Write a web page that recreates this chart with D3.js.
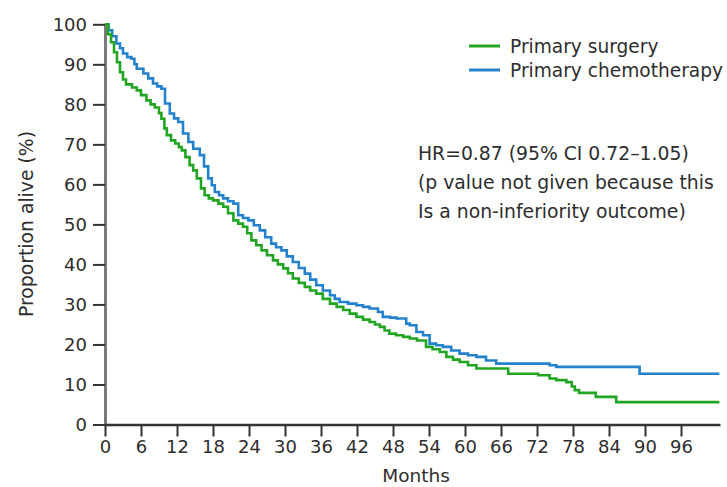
<!DOCTYPE html>
<html>
<head>
<meta charset="utf-8">
<script src="https://cdn.jsdelivr.net/npm/d3@7/dist/d3.min.js"></script>
<style>
  body { margin: 0; background: #fff; }
  text { font-family: "DejaVu Sans", sans-serif; fill: #2e2e2e; }
</style>
</head>
<body>
<div id="display"></div>
<script>
// Kaplan-Meier steps: [month, % alive]
var surgery = [
  [0,100],[0.5,97.5],[1,95.5],[1.5,93],[2,90.5],[2.5,88],[3,86.2],[3.5,85],[4.5,84.2],[5.3,83.5],
  [6,82.3],[6.9,81],[7.6,80],[8.3,79.2],[9,77.8],[9.4,76.4],[9.9,74],[10.3,72.3],[11,71],[11.7,70.2],
  [12.3,69.3],[12.8,68.5],[13.4,66.8],[14.1,64.8],[14.7,63.5],[15.3,61.5],[16,59],[16.6,57.3],[17.3,56.5],[18,56],
  [18.9,55.2],[19.7,54.4],[20.5,52.8],[21.4,51],[22.2,50.2],[23,49.4],[23.7,47.8],[24.4,46],[25.2,44.8],[26.1,43.5],
  [27,42.3],[28,41],[28.8,40],[29.7,39],[30.5,37.8],[31.3,36.5],[32.3,35.4],[33.3,34.4],[34.2,33.5],[35.2,32.7],
  [36.3,31.4],[37.5,30.2],[38.6,29.4],[39.7,28.6],[40.8,27.7],[41.9,26.9],[43,26.2],[44.1,25.6],[45,25],[45.8,24.4],
  [46.6,23.5],[47.4,22.7],[48.5,22.3],[49.7,21.9],[50.8,21.5],[52,21],[53.5,19.4],[54.6,18.8],[55.8,18.1],[56.9,16.9],
  [58,16.2],[59.1,15.6],[60.5,14.8],[61.9,14],[67.2,12.7],[72.2,12.3],[74.1,11.5],[75.2,11.1],[76.9,10.6],[77.8,9.5],
  [78.3,8.6],[79,7.9],[81.8,6.9],[85.2,5.6],[102.4,5.6]
];

var chemo = [
  [0,100],[0.6,98.5],[1.2,97],[1.9,95.2],[2.5,94],[3,92.7],[3.7,91.8],[4.4,91.4],[4.9,90],[5.3,88.9],
  [6.4,87.7],[7.2,86.5],[8,85.2],[8.7,84.5],[9.4,83.9],[10,80.2],[10.8,77.7],[11.5,76.5],[12.2,75.6],[13,72.7],
  [13.9,70.6],[14.7,68.9],[15.8,67.3],[16.5,64.5],[17.2,61.5],[17.8,59.8],[18.3,58.1],[19,57.3],[19.7,56.5],[20.5,55.8],
  [21.4,55.2],[22.2,52.3],[23,51.6],[23.9,51],[24.8,49.8],[25.8,48.5],[26.7,46.8],[27.7,45.2],[28.5,44.3],[29.4,43.5],
  [30.3,42],[31.3,40.6],[32.3,39.1],[33.3,37.7],[34.2,36.2],[35.2,34.8],[36.3,33.5],[37.5,32.3],[38.3,31.4],[39.1,30.6],
  [40.5,30.2],[41.9,29.8],[43,29.4],[44.1,29],[45.5,28.1],[46.3,26.9],[47.5,26.7],[48.6,26.5],[50.2,25.2],[50.8,24.8],
  [51.9,23.1],[53,22.3],[54.1,20.2],[55.2,19.8],[56.3,19.4],[57.7,18.5],[59.1,17.7],[60.5,17.3],[61.9,16.9],[63.5,16],
  [65.2,15.2],[74.1,14.8],[75.2,14.4],[89.1,12.7],[102.4,12.7]
];

var seriesNames = ["Primary surgery", "Primary chemotherapy"];
var seriesColors = ["#22a522", "#2481cb"];
var xTicks = [0,6,12,18,24,30,36,42,48,54,60,66,72,78,84,90,96];
var yTicks = [0,10,20,30,40,50,60,70,80,90,100];
var noteLines = ["HR=0.87 (95% CI 0.72\u20131.05)", "(p value not given because this", "Is a non-inferiority outcome)"];

var svg = d3.select("#display").append("svg")
    .attr("width", 727)
    .attr("height", 487);

var x = d3.scaleLinear().domain([0, 102.5]).range([105, 720]);
var y = d3.scaleLinear().domain([0, 100]).range([424.5, 24.3]);

//axes
var yaxis = svg.append("g").attr("transform", "translate(105,0)")
    .call(d3.axisLeft(y).tickValues(yTicks).tickSize(12).tickSizeOuter(0).tickPadding(6));
yaxis.select(".domain").attr("stroke", "#7a7a7a").attr("stroke-width", 3);
yaxis.selectAll(".tick line").attr("stroke", "#333").attr("stroke-width", 2);
yaxis.selectAll(".tick text").style("font-size", "18px").attr("dy", "0.35em");

var xaxis = svg.append("g").attr("transform", "translate(0,424.5)")
    .call(d3.axisBottom(x).tickValues(xTicks).tickSize(12).tickSizeOuter(0).tickPadding(4));
xaxis.select(".domain").attr("stroke", "#333").attr("stroke-width", 2.5);
xaxis.selectAll(".tick line").attr("stroke", "#333").attr("stroke-width", 2);
xaxis.selectAll(".tick text").style("font-size", "18px");

svg.append("text")
    .attr("transform", "translate(33,224) rotate(-90)")
    .attr("text-anchor", "middle")
    .style("font-size", "18.8px")
    .text("Proportion alive (%)");

svg.append("text")
    .attr("x", 416).attr("y", 482)
    .attr("text-anchor", "middle")
    .style("font-size", "18.5px")
    .text("Months");

//curves
var line = d3.line()
    .x(function(d) { return x(d[0]); })
    .y(function(d) { return y(d[1]); })
    .curve(d3.curveStepAfter);

[chemo, surgery].forEach(function(s, i) {
  svg.append("path")
      .datum(s)
      .attr("fill", "none")
      .attr("stroke", seriesColors[1 - i])
      .attr("stroke-width", 2.6)
      .attr("d", line);
});

//legend
var legend = svg.append("g").selectAll("g")
    .data(seriesNames)
    .enter().append("g")
    .attr("transform", function(d, i) { return "translate(469," + (46 + i * 24) + ")"; });
legend.append("line")
    .attr("x1", 0).attr("x2", 31)
    .attr("stroke", function(d, i) { return seriesColors[i]; })
    .attr("stroke-width", 3);
legend.append("text")
    .attr("x", 41).attr("y", 7)
    .style("font-size", "18.6px")
    .text(function(d) { return d; });

svg.append("g").selectAll("text")
    .data(noteLines)
    .enter().append("text")
    .attr("x", 418)
    .attr("y", function(d, i) { return 160 + i * 29; })
    .style("font-size", "18.8px")
    .text(function(d) { return d; });
</script>
</body>
</html>
